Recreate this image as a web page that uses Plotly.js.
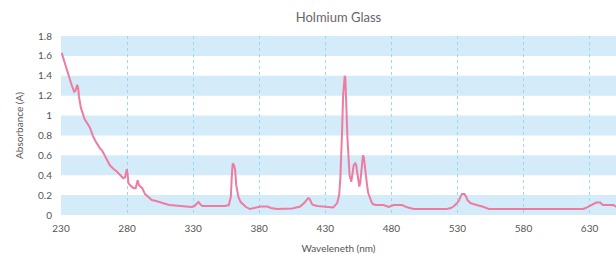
<!DOCTYPE html>
<html>
<head>
<meta charset="utf-8">
<script src="https://cdn.plot.ly/plotly-3.0.1.min.js"></script>
<style>html,body{margin:0;padding:0;background:#fff;}#chart{width:616px;height:254px;}</style>
</head>
<body>
<div id="chart"></div>
<script>
const wavelength = [230.5,232,234,236.8,238.5,240,241,242.2,243,243.6,245,248,250,252,254,255.8,259.5,261,263,265,267,270,272,275,277,278.5,279.8,280.5,281,283,285,286.5,287.5,288,289,290,291.5,293.6,296,298.7,302,305,308,312,316,320,325,329,331,333,334,336,337,342,348,354,357,358.5,359.5,360,361,361.8,362.6,364.3,366,368,370,373,376,379.5,381,386,389,393.4,398,405,411,414,417,418,420,421,424,428,432,436,439,440.5,441.4,442.2,442.7,443.5,444.3,444.7,445.2,445.7,446.3,446.9,447.5,448.4,449.7,450.5,451.5,452.7,453.5,454,455,455.8,456.5,457.3,458,458.5,459.2,459.8,460.8,461.6,462.5,463.6,465,466,468,471.7,474,478,481.7,485,488,492,497,505,515,522,525,527,529,531,532.5,533.5,535.3,536.8,537.5,539.8,542,545,548,550,553.7,560,580,600,620,625,627,629,631,633,635,638,640,645,648,650,652];
const absorbance = [1.63,1.56,1.47,1.36,1.29,1.24,1.25,1.31,1.28,1.19,1.08,0.96,0.92,0.875,0.80,0.75,0.67,0.65,0.60,0.55,0.50,0.46,0.44,0.40,0.37,0.38,0.46,0.40,0.32,0.29,0.27,0.27,0.33,0.35,0.30,0.285,0.27,0.21,0.18,0.15,0.14,0.125,0.115,0.10,0.095,0.09,0.085,0.08,0.09,0.12,0.13,0.10,0.09,0.09,0.09,0.09,0.10,0.18,0.45,0.52,0.50,0.45,0.30,0.18,0.13,0.10,0.08,0.06,0.07,0.077,0.085,0.085,0.07,0.06,0.06,0.065,0.085,0.12,0.17,0.165,0.11,0.10,0.09,0.085,0.075,0.075,0.12,0.20,0.37,0.60,0.84,1.20,1.38,1.40,1.38,1.25,0.95,0.74,0.55,0.40,0.335,0.40,0.50,0.52,0.50,0.44,0.35,0.285,0.33,0.44,0.56,0.60,0.58,0.50,0.40,0.30,0.22,0.17,0.13,0.11,0.10,0.10,0.10,0.08,0.10,0.10,0.10,0.077,0.06,0.06,0.06,0.06,0.07,0.085,0.11,0.14,0.19,0.21,0.21,0.18,0.15,0.12,0.11,0.10,0.09,0.08,0.06,0.06,0.06,0.06,0.06,0.06,0.07,0.085,0.10,0.11,0.125,0.125,0.10,0.10,0.10,0.085,0.08];
const xTicks = [230,280,330,380,430,480,530,580,630];
const yTicks = [0,0.2,0.4,0.6,0.8,1,1.2,1.4,1.6,1.8];

const bandColor = 'rgb(212,235,250)';
const shapes = [];
for (let i = 0; i + 1 < yTicks.length; i += 2) {
  shapes.push({type:'rect', xref:'paper', yref:'y', x0:0, x1:1, y0:yTicks[i], y1:yTicks[i+1],
    fillcolor:bandColor, line:{width:0}, layer:'below'});
}

const trace = {
  x: wavelength, y: absorbance, type:'scatter', mode:'lines',
  line:{color:'rgb(238,124,160)', width:2},
  hoverinfo:'skip'
};

const layout = {
  width:616, height:254,
  margin:{l:61, r:0, t:36, b:39},
  paper_bgcolor:'#fff', plot_bgcolor:'#fff',
  font:{family:'Lato, sans-serif', size:10, color:'#555'},
  title:{text:'Holmium Glass', font:{family:'Lato, sans-serif', size:13, color:'#666'}, x:0.5, xref:'paper', y:0.93, yref:'container', yanchor:'middle'},
  showlegend:false,
  shapes: shapes,
  xaxis:{range:[230,650], tickvals:xTicks, ticktext:xTicks.map(String), showgrid:true,
    gridcolor:'#9fd6f5', griddash:'dot', gridwidth:1, zeroline:false, showline:false,
    ticks:'', ticklabelstandoff:6,
    title:{text:'Waveleneth (nm)', font:{family:'Lato, sans-serif', size:10, color:'#555'}, standoff:11}},
  yaxis:{range:[0,1.8], tickvals:yTicks, ticktext:yTicks.map(String), showgrid:false, zeroline:false,
    showline:false, ticks:'', ticklabelstandoff:8,
    title:{text:'Absorbance (A)', font:{family:'Lato, sans-serif', size:10, color:'#555'}, standoff:12}}
};

Plotly.newPlot('chart', [trace], layout, {displayModeBar:false, staticPlot:true});
</script>
</body>
</html>
